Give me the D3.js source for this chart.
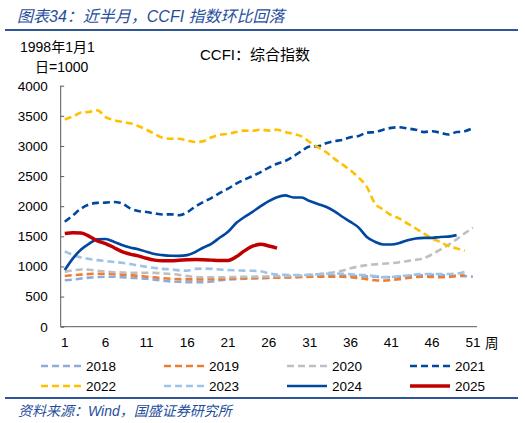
<!DOCTYPE html>
<html>
<head>
<meta charset="utf-8">
<script src="https://cdn.jsdelivr.net/npm/d3@7"></script>
<style>
  body { margin: 0; background: #fff; }
  text { font-family: "Liberation Sans", Arial, "Noto Sans CJK SC", sans-serif; }
  .cjk { font-family: "Liberation Sans", "Noto Sans CJK SC", sans-serif; }
</style>
</head>
<body>
<script>
// weekly CCFI composite index by year (week 1..n)
var weeks = d3.range(1, 52);
var xTicks = [1, 6, 11, 16, 21, 26, 31, 36, 41, 46, 51];
var yTicks = [0, 500, 1000, 1500, 2000, 2500, 3000, 3500, 4000];
var years = ['2018', '2019', '2020', '2021', '2022', '2023', '2024', '2025'];

var v2018 = [770, 780, 800, 815, 825, 830, 830, 820, 815, 805, 795, 780, 765, 750, 745, 740, 740, 740, 750, 770,
             785, 790, 795, 800, 805, 810, 815, 820, 825, 830, 835, 840, 845, 850, 850, 845, 840, 835, 830, 825,
             820, 830, 840, 850, 855, 860, 855, 850, 845, 840, 830];
var v2019 = [840, 855, 865, 875, 880, 880, 875, 865, 855, 845, 830, 818, 805, 795, 790, 785, 785, 785, 788, 790,
             795, 800, 805, 808, 810, 812, 815, 818, 820, 825, 828, 830, 830, 830, 828, 820, 805, 790, 770, 765,
             775, 790, 810, 825, 830, 825, 820, 825, 840, 855];
var v2020 = [910, 935, 950, 945, 930, 915, 905, 900, 895, 895, 895, 893, 885, 875, 860, 840, 825, 820, 820, 820,
             822, 825, 828, 830, 832, 835, 838, 840, 845, 850, 860, 870, 885, 905, 930, 970, 1000, 1022, 1035, 1045,
             1055, 1070, 1090, 1110, 1140, 1200, 1280, 1360, 1450, 1550, 1645];
var v2021 = [1740, 1850, 1960, 2030, 2055, 2060, 2070, 2045, 1965, 1920, 1905, 1880, 1862, 1865, 1850, 1900, 1995, 2070, 2140, 2220,
             2290, 2375, 2440, 2500, 2565, 2640, 2705, 2750, 2825, 2915, 2990, 2995, 3045, 3080, 3100, 3145, 3165, 3220, 3230, 3270,
             3300, 3310, 3290, 3270, 3230, 3245, 3220, 3190, 3230, 3245, 3300];
var v2022 = [3440, 3490, 3555, 3565, 3590, 3480, 3430, 3400, 3375, 3330, 3270, 3200, 3135, 3120, 3120, 3090, 3065, 3080, 3145, 3185,
             3200, 3230, 3255, 3250, 3270, 3255, 3270, 3230, 3200, 3160, 3065, 2980, 2900, 2790, 2695, 2595, 2475, 2320, 2045, 1945,
             1850, 1795, 1710, 1630, 1545, 1465, 1405, 1340, 1300, 1260];
var v2023 = [1250, 1190, 1150, 1125, 1105, 1090, 1075, 1060, 1040, 1015, 995, 975, 960, 950, 935, 930, 960, 965, 960, 950,
             940, 935, 930, 928, 920, 885, 865, 860, 858, 858, 862, 870, 880, 885, 880, 870, 860, 855, 840, 820,
             825, 840, 850, 865, 875, 875, 872, 875, 880, 910];
var v2024 = [940, 1135, 1280, 1380, 1450, 1455, 1410, 1355, 1315, 1285, 1245, 1205, 1188, 1178, 1176, 1188, 1240, 1315, 1380, 1480,
             1575, 1720, 1820, 1905, 2000, 2085, 2150, 2180, 2145, 2145, 2085, 2035, 1990, 1920, 1825, 1740, 1645, 1490, 1410, 1365,
             1365, 1390, 1435, 1465, 1475, 1475, 1490, 1495, 1520];
var v2025 = [1547, 1558, 1555, 1500, 1425, 1380, 1315, 1245, 1205, 1175, 1135, 1105, 1095, 1095, 1102, 1110, 1115, 1112, 1105, 1100,
             1100, 1160, 1258, 1336, 1370, 1340, 1305];

var values = [v2018, v2019, v2020, v2021, v2022, v2023, v2024, v2025];
var colors = ['#8FAADC', '#ED7D31', '#BFBFBF', '#0047A0', '#FFC000', '#9DC3E6', '#0047A0', '#C00000'];
var dashed = [true, true, true, true, true, true, false, false];
var widths = [2.6, 2.6, 2.6, 2.6, 2.6, 2.6, 2.6, 3.5];

var W = 525, H = 423;
var plotL = 60.7, plotR = 477, plotT = 85.7, plotB = 326.7;

var svg = d3.select('body').append('svg')
  .attr('width', W)
  .attr('height', H);

// header / footer
svg.append('text')
  .attr('class', 'cjk')
  .attr('x', 17).attr('y', 22)
  .attr('font-size', 16)
  .attr('font-style', 'italic')
  .attr('fill', '#1F4E9C')
  .text('图表34：近半月，CCFI 指数环比回落');
svg.append('line')
  .attr('x1', 5).attr('x2', 518).attr('y1', 30).attr('y2', 30)
  .attr('stroke', '#2F5597').attr('stroke-width', 2);
svg.append('line')
  .attr('x1', 5).attr('x2', 518).attr('y1', 398).attr('y2', 398)
  .attr('stroke', '#2F5597').attr('stroke-width', 2);
svg.append('text')
  .attr('class', 'cjk')
  .attr('x', 18).attr('y', 416)
  .attr('font-size', 14)
  .attr('font-style', 'italic')
  .attr('fill', '#1F4E9C')
  .text('资料来源：Wind，国盛证券研究所');

svg.append('text').attr('class', 'cjk')
  .attr('x', 20).attr('y', 52).attr('font-size', 14).attr('fill', '#000')
  .text('1998年1月1');
svg.append('text').attr('class', 'cjk')
  .attr('x', 35).attr('y', 72).attr('font-size', 14).attr('fill', '#000')
  .text('日=1000');
svg.append('text').attr('class', 'cjk')
  .attr('x', 200).attr('y', 60).attr('font-size', 15).attr('fill', '#000')
  .text('CCFI：综合指数');

var x = d3.scaleBand().domain(weeks).range([plotL, plotR]);
var y = d3.scaleLinear().domain([0, 4000]).range([plotB, plotT]);
var xc = function(w) { return x(w) + x.bandwidth() / 2; };

// y axis
var yAxis = svg.append('g')
  .attr('transform', 'translate(' + plotL + ',0)')
  .call(d3.axisLeft(y).tickValues(yTicks).tickFormat(d3.format('d')).tickSize(-3.5).tickPadding(13));
yAxis.select('.domain').attr('stroke', '#595959').attr('d', 'M0,' + plotT + 'V' + plotB);
yAxis.selectAll('.tick line').attr('stroke', '#595959');
yAxis.selectAll('.tick text').attr('font-size', 13.5).attr('fill', '#000')
  .attr('font-family', '"Liberation Sans", Arial, sans-serif');

// x axis
var xAxis = svg.append('g')
  .attr('transform', 'translate(0,' + plotB + ')')
  .call(d3.axisBottom(x).tickValues(xTicks).tickSize(0).tickPadding(11));
xAxis.select('.domain').attr('stroke', '#595959').attr('d', 'M' + plotL + ',0H' + plotR);
xAxis.selectAll('.tick text').attr('font-size', 13.5).attr('fill', '#000')
  .attr('font-family', '"Liberation Sans", Arial, sans-serif');
svg.append('text').attr('class', 'cjk')
  .attr('x', 485).attr('y', 348).attr('font-size', 13.5).attr('fill', '#000')
  .text('周');

// lines
var line = d3.line()
  .x(function(d, i) { return xc(i + 1); })
  .y(function(d) { return y(d); })
  .curve(d3.curveMonotoneX);

svg.selectAll('path.series')
  .data(values)
  .enter()
  .append('path')
  .attr('class', 'series')
  .attr('fill', 'none')
  .attr('stroke', function(d, i) { return colors[i]; })
  .attr('stroke-width', function(d, i) { return widths[i]; })
  .attr('stroke-dasharray', function(d, i) { return dashed[i] ? '7,4' : null; })
  .attr('stroke-linejoin', 'round')
  .attr('d', line);

// legend
var lg = svg.selectAll('g.legend')
  .data(years)
  .enter()
  .append('g')
  .attr('class', 'legend')
  .attr('transform', function(d, i) {
    return 'translate(' + (41 + (i % 4) * 123) + ',' + (366 + Math.floor(i / 4) * 20) + ')';
  });
lg.append('line')
  .attr('x1', 0).attr('x2', 40).attr('y1', 0).attr('y2', 0)
  .attr('stroke', function(d, i) { return colors[i]; })
  .attr('stroke-width', function(d, i) { return widths[i]; })
  .attr('stroke-dasharray', function(d, i) { return dashed[i] ? '7,4' : null; });
lg.append('text')
  .attr('x', 45).attr('y', 5)
  .attr('font-size', 13.5).attr('fill', '#000')
  .text(function(d) { return d; });
</script>
</body>
</html>
